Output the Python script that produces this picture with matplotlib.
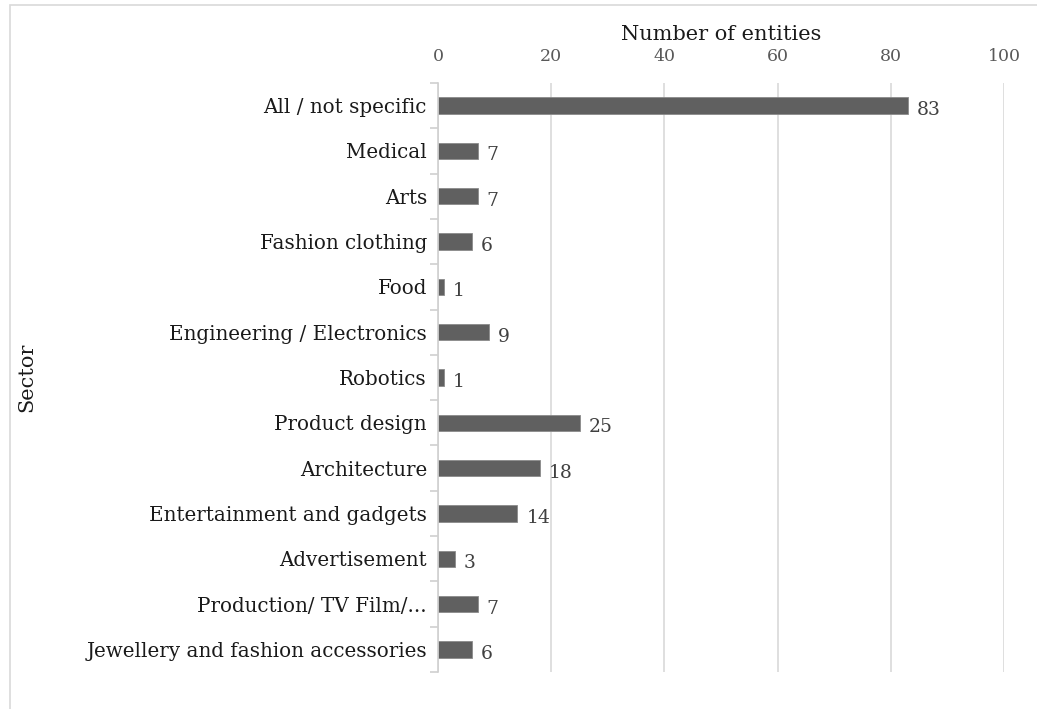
import matplotlib.pyplot as plt
import numpy as np
from matplotlib.patches import Rectangle

sectors = [
    "All / not specific",
    "Medical",
    "Arts",
    "Fashion clothing",
    "Food",
    "Engineering / Electronics",
    "Robotics",
    "Product design",
    "Architecture",
    "Entertainment and gadgets",
    "Advertisement",
    "Production/ TV Film/...",
    "Jewellery and fashion accessories",
]
entities = [83, 7, 7, 6, 1, 9, 1, 25, 18, 14, 3, 7, 6]
x_ticks = [0, 20, 40, 60, 80, 100]

plt.rcParams["font.family"] = ["DejaVu Serif"]

fig = plt.figure(figsize=(10.37, 7.09), dpi=100)
ax = fig.add_axes([438 / 1037, 1 - 672 / 709, (1004 - 438) / 1037, (672 - 83) / 709])

# chart area frame
fig.patches.append(Rectangle((10 / 1037, -0.1), 1.2, 1.1 - 5 / 709, transform=fig.transFigure,
                             fill=False, edgecolor="#d9d9d9", linewidth=1.2, zorder=0))

y = np.arange(len(sectors))
ax.barh(y, entities, height=0.36, color="#606060", edgecolor="#8a8a8a", linewidth=0.6, zorder=3)

for yi, v in zip(y, entities):
    ax.text(v + 1.6, yi + 0.1, str(v), va="center", ha="left", fontsize=13.5, color="#404040")

ax.set_ylim(len(sectors) - 0.5, -0.5)
ax.set_xlim(0, 100)
ax.set_yticks(y)
ax.set_yticklabels(sectors, fontsize=14.3, color="#1a1a1a")
ax.set_yticks(np.arange(-0.5, len(sectors)), minor=True)
ax.tick_params(axis="y", which="major", length=0, pad=8)
ax.tick_params(axis="y", which="minor", length=6, color="#d0d0d0", width=1.2)

ax.xaxis.tick_top()
ax.xaxis.set_label_position("top")
ax.set_xticks(x_ticks)
ax.tick_params(axis="x", length=0, labelsize=12.5, labelcolor="#595959", pad=13)
ax.set_xlabel("Number of entities", fontsize=15, color="#1a1a1a", labelpad=6)
ax.set_ylabel("Sector", fontsize=15, color="#1a1a1a", labelpad=36)

ax.grid(axis="x", color="#d9d9d9", linewidth=1.2, zorder=0)
for side in ("top", "right", "bottom"):
    ax.spines[side].set_visible(False)
ax.spines["left"].set_color("#d0d0d0")
ax.spines["left"].set_linewidth(1.2)
ax.spines["left"].set_zorder(4)

fig.savefig("out.png", dpi=100)
